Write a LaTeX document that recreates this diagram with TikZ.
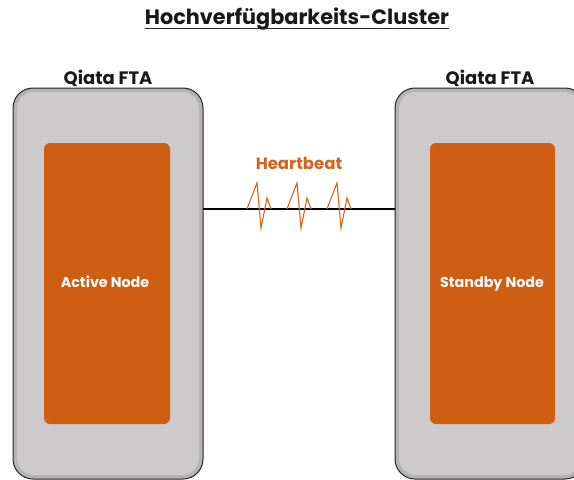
\documentclass[tikz,border=0pt]{standalone}
\usepackage{fontspec}
\setmainfont{Poppins}
\usetikzlibrary{calc}
\definecolor{boxgray}{HTML}{CCCACB}
\definecolor{boxedge}{HTML}{B4B2B3}
\definecolor{nodeorange}{HTML}{CD5E12}
\definecolor{beatorange}{HTML}{D0661E}
\tikzset{
  outerbox/.style={draw=black!85, line width=1pt, rounded corners=20pt, fill=boxedge},
  outerinner/.style={rounded corners=17pt, fill=boxgray},
  innerbox/.style={fill=nodeorange, rounded corners=6pt},
  nodelabel/.style={text=white, anchor=base, font=\bfseries\fontsize{14.3}{16}\selectfont},
  headlabel/.style={anchor=base, font=\bfseries\fontsize{18}{20}\selectfont, text=black!90},
  beat/.style={draw=beatorange, line width=1.1pt, line join=miter},
  link/.style={draw=black, line width=1.4pt}
}
\begin{document}
\begin{tikzpicture}[x=1pt,y=-1pt]
\useasboundingbox (0,0) rectangle (574,480);
\begin{scope}
\clip (0,0) rectangle (574,480);
% title
\node[font=\bfseries\fontsize{20.8}{24}\selectfont, text=black!90, inner sep=0pt] (title) at (297,19) {Hochverfügbarkeits-Cluster};
\draw[black!85, line width=1.6pt] ([yshift=-4pt]title.base west) -- ([yshift=-4pt]title.base east);
% left box
\path[outerbox] (13,88) rectangle (203,479);
\path[outerinner] (17,92) rectangle (199,475);
\node[headlabel] (lhead) at (108,84) {Qiata FTA};
\path[innerbox] (44,143) rectangle (170,424);
\node[nodelabel] (active) at (105,287) {Active Node};
% right box
\path[outerbox] (395,88) rectangle (585,479);
\path[outerinner] (399,92) rectangle (581,475);
\node[headlabel] (rhead) at (490,84) {Qiata FTA};
\path[innerbox] (430,143) rectangle (555,424);
\node[nodelabel] (standby) at (492,287) {Standby Node};
% link
\coordinate (la) at (203,209);
\coordinate (ra) at (395,209);
\draw[link] (la) -- (ra);
\node[text=beatorange, font=\bfseries\fontsize{16.5}{18}\selectfont] (hb) at (299,163) {Heartbeat};
\foreach \dx in {0,40,80}{
  \draw[beat] (247+\dx,209) -- (257+\dx,183) -- (261+\dx,228) -- (267+\dx,198) -- (271+\dx,209);
}
\end{scope}
\end{tikzpicture}
\end{document}
